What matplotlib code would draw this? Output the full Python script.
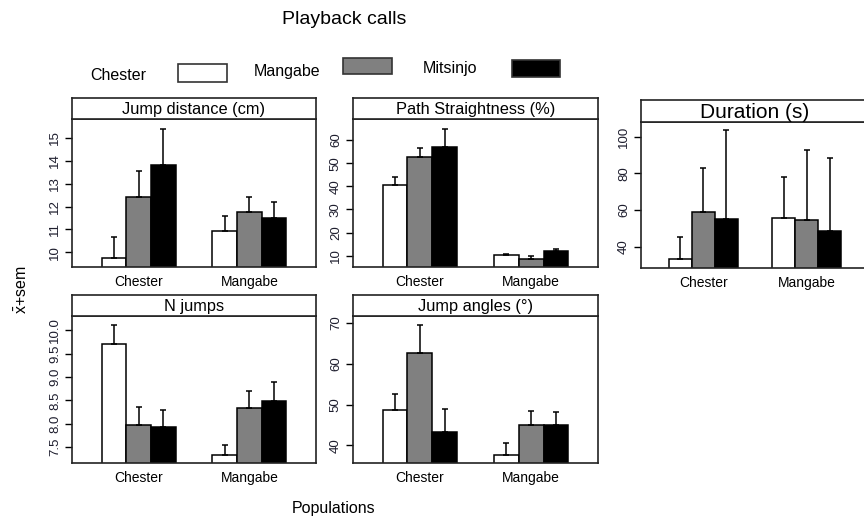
import matplotlib
matplotlib.use("Agg")
import matplotlib.pyplot as plt
from matplotlib.patches import Rectangle

plt.rcParams['font.family'] = ['Liberation Sans', 'DejaVu Sans']
plt.rcParams['mathtext.fontset'] = 'custom'
plt.rcParams['mathtext.rm'] = 'Liberation Sans'
plt.rcParams['mathtext.it'] = 'Liberation Sans'

populations = ['Chester', 'Mangabe']
calls = ['Chester', 'Mangabe', 'Mitsinjo']
call_colors = ['white', '#808080', 'black']

# means and sem, one row per population, one value per playback call
jump_dist_mean = [[9.74, 12.43, 13.83], [10.93, 11.76, 11.51]]
jump_dist_sem = [[0.94, 1.12, 1.57], [0.65, 0.65, 0.67]]
path_mean = [[40.6, 52.8, 57.1], [10.3, 8.7, 11.9]]
path_sem = [[3.6, 3.9, 7.8], [0.4, 1.2, 1.1]]
duration_mean = [[33.3, 58.8, 54.9], [55.7, 54.7, 48.4]]
duration_sem = [[11.8, 24.3, 48.6], [22.2, 38.1, 40.2]]
njumps_mean = [[9.70, 7.98, 7.93], [7.34, 8.33, 8.49]]
njumps_sem = [[0.41, 0.38, 0.37], [0.20, 0.38, 0.40]]
angles_mean = [[48.6, 62.7, 43.3], [37.6, 45.0, 45.1]]
angles_sem = [[4.1, 6.8, 5.6], [3.1, 3.4, 3.0]]

W, H = 864, 518
fig = plt.figure(figsize=(W / 100, H / 100), dpi=100)

def box(l, t, r, b):
    return [l / W, 1 - b / H, (r - l) / W, (b - t) / H]

def panel(px, strip_top, title, means, sems, ylim, yticks, yticklabels, title_size=11.8):
    l, t, r, b = px
    ax = fig.add_axes(box(l, t, r, b))
    st = fig.add_axes(box(l, strip_top, r, t))
    st.set_xticks([])
    st.set_yticks([])
    st.text(0.5, 0.45, title, ha='center', va='center', fontsize=title_size,
            transform=st.transAxes)
    for s in st.spines.values():
        s.set_linewidth(1.2)
        s.set_color('#222222')

    start, gap = 1.2, 1.5
    centers = []
    for g in range(len(populations)):
        g0 = start + g * (3 + gap)
        centers.append(g0 + 1.5)
        for k in range(len(calls)):
            x = g0 + k + 0.5
            ax.bar(x, means[g][k], width=1, color=call_colors[k],
                   edgecolor='black', linewidth=1.1)
            ax.errorbar(x, means[g][k], yerr=[[0], [sems[g][k]]], fmt='none',
                        ecolor='black', elinewidth=1.1, capsize=2, capthick=1.1)
    ax.set_xlim(0, 9.9)
    ax.set_ylim(*ylim)
    ax.set_xticks(centers)
    ax.set_xticklabels(populations, fontsize=10)
    ax.tick_params(axis='x', length=0, pad=6)
    ax.set_yticks(yticks)
    ax.set_yticklabels(yticklabels, rotation=90, va='center', fontsize=9.5,
                       color='#1e1e2e')
    ax.tick_params(axis='y', length=5, width=1, pad=3)
    for s in ax.spines.values():
        s.set_linewidth(1.2)
        s.set_color('#222222')
    return ax

panel((72, 119, 316, 267), 98, 'Jump distance (cm)', jump_dist_mean, jump_dist_sem,
      (9.36, 15.82), [10, 11, 12, 13, 14, 15], ['10', '11', '12', '13', '14', '15'])
panel((353, 119, 598, 267), 98, 'Path Straightness (%)', path_mean, path_sem,
      (5.1, 69.1), [10, 20, 30, 40, 50, 60], ['10', '20', '30', '40', '50', '60'])
panel((641, 122, 869, 268), 100, 'Duration (s)', duration_mean, duration_sem,
      (28.4, 108.0), [40, 60, 80, 100], ['40', '60', '80', '100'], title_size=15)
panel((72, 316, 316, 463), 295, 'N jumps', njumps_mean, njumps_sem,
      (7.165, 10.30), [7.5, 8.0, 8.5, 9.0, 9.5, 10.0],
      ['7.5', '8.0', '8.5', '9.0', '9.5', '10.0'])
panel((353, 316, 598, 463), 295, 'Jump angles (°)', angles_mean, angles_sem,
      (35.7, 71.7), [40, 50, 60, 70], ['40', '50', '60', '70'])

# title, legend and axis labels
fig.text(344 / W, 1 - 20 / H, 'Playback calls', ha='center', va='center', fontsize=14)
legend_text = [(90, 76), (254, 71), (423, 68)]
legend_boxes = [(178, 64, 227, 82), (343, 58, 392, 74), (512, 60, 560, 77)]
for k, name in enumerate(calls):
    tx, ty = legend_text[k]
    fig.text(tx / W, 1 - ty / H, name, ha='left', va='center', fontsize=11.5)
    l, t, r, b = legend_boxes[k]
    fig.patches.append(Rectangle((l / W, 1 - b / H), (r - l) / W, (b - t) / H,
                                 transform=fig.transFigure, facecolor=call_colors[k],
                                 edgecolor='#333333', linewidth=1.2))

fig.text(22 / W, 1 - 290 / H, r'$\bar{\mathrm{x}}$+sem', rotation=90,
         ha='center', va='center', fontsize=11.5)
fig.text(334 / W, 1 - 508 / H, 'Populations', ha='center', va='center', fontsize=11.5)

plt.savefig('out.png', dpi=100)
